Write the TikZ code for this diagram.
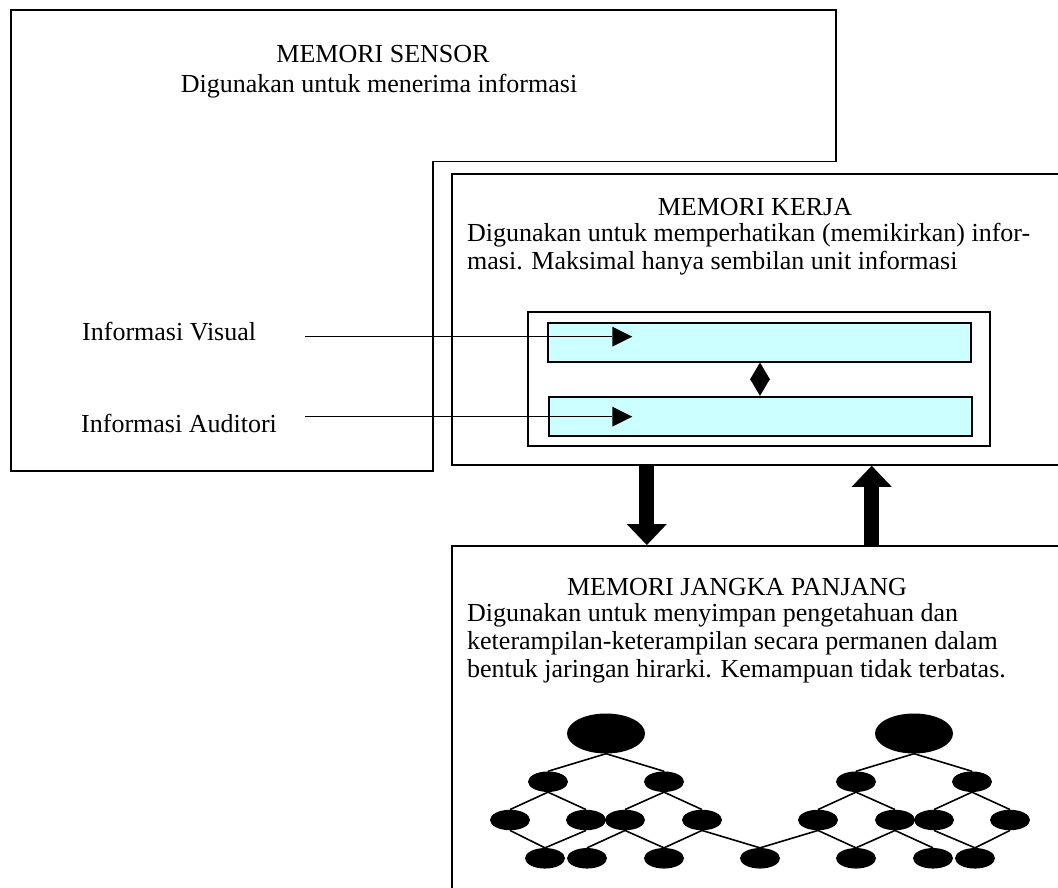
\documentclass[tikz,border=0pt]{standalone}
\usepackage{fontspec}
\setmainfont{Liberation Serif}
\usetikzlibrary{arrows.meta,shapes.geometric}
\definecolor{barcyan}{RGB}{204,255,255}
\begin{document}
\begin{tikzpicture}[x=1pt,y=-1pt,
  txt/.style={inner sep=0pt, font=\fontsize{26}{28}\selectfont},
  boxline/.style={draw=black, line width=1.6pt},
  panel/.style={draw=black, line width=1.6pt, fill=white, inner sep=0pt},
  bar/.style={draw=black, line width=1.6pt, fill=barcyan, inner sep=0pt},
  infoarrow/.style={line width=1.2pt, -{Triangle[length=20pt,width=20pt,line width=0pt]}},
  swaparrow/.style={line width=1.2pt, {Triangle[length=17pt,width=20pt,line width=0pt]}-{Triangle[length=17pt,width=20pt,line width=0pt]}},
  fatarrow/.style={line width=15pt, -{Triangle[length=21pt,width=40pt,line width=0pt]}},
  bignode/.style={ellipse, fill=black, inner sep=0pt, minimum width=78pt, minimum height=40pt},
  smallnode/.style={ellipse, fill=black, inner sep=0pt, minimum width=40pt, minimum height=20.5pt},
  treeline/.style={line width=1.6pt}
]
\useasboundingbox (0,0) rectangle (1058,888);
\clip (0,0) rectangle (1058,888);
% sensor memory (stepped outline)
\draw[boxline] (11,10) -- (836,10) -- (836,161.5) -- (433,161.5) -- (433,471) -- (11,471) -- cycle;
\node[txt, anchor=base] (s1) at (383,63) {MEMORI SENSOR};
\node[txt, anchor=base] (s2) at (379,93) {Digunakan untuk menerima informasi};
\node[txt, anchor=base west] (vis) at (82,340.5) {Informasi Visual};
\node[txt, anchor=base west] (aud) at (81,432) {Informasi Auditori};
% working memory
\node[panel, minimum width=648pt, minimum height=291pt] (kerja) at (776,319.5) {};
\node[txt, anchor=base] (k1) at (755,215) {MEMORI KERJA};
\node[txt, anchor=base west] (k2) at (467,241) {\makebox[563pt][s]{Digunakan untuk memperhatikan (memikirkan) infor-}};
\node[txt, anchor=base west] (k3) at (467,269) {masi. Maksimal hanya sembilan unit informasi};
\node[panel, minimum width=462pt, minimum height=134pt] (inner) at (759,379) {};
\node[bar, minimum width=423pt, minimum height=39pt] (bar1) at (759.5,342.2) {};
\node[bar, minimum width=423pt, minimum height=39pt] (bar2) at (760.5,416.2) {};
\coordinate (vs) at (305,336.7);
\coordinate (vt) at (632.3,336.7);
\coordinate (as) at (305,416.7);
\coordinate (at) at (632.3,416.7);
\draw[infoarrow] (vs) -- (vt);
\draw[infoarrow] (as) -- (at);
\draw[swaparrow] ([xshift=0.5pt]bar1.south) -- ([xshift=-0.5pt]bar2.north);
% long term memory
\node[panel, minimum width=648pt, minimum height=404pt] (ltm) at (776,747.85) {};
\draw[fatarrow] ([xshift=-129.2pt]kerja.south) -- ([xshift=-129.2pt]ltm.north);
\draw[fatarrow] ([xshift=95.7pt]ltm.north) -- ([xshift=95.7pt]kerja.south);
\node[txt, anchor=base] (l1) at (737,595) {MEMORI JANGKA PANJANG};
\node[txt, anchor=base west] (l2) at (467,621) {Digunakan untuk menyimpan pengetahuan dan};
\node[txt, anchor=base west] (l3) at (467,649) {keterampilan-keterampilan secara permanen dalam};
\node[txt, anchor=base west] (l4) at (467,677) {bentuk jaringan hirarki. Kemampuan tidak terbatas.};
% hierarchy
\node[bignode] (r1) at (606,733.5) {};
\node[bignode] (r2) at (914,733.5) {};
\foreach \n/\x in {a1/548,a2/664,a3/856,a4/972}
  \node[smallnode] (\n) at (\x,781.7) {};
\foreach \n/\x in {b1/510,b2/586,b3/625,b4/702,b5/818,b6/895,b7/934,b8/1010}
  \node[smallnode] (\n) at (\x,820) {};
\foreach \n/\x in {c1/545,c2/587,c3/664,c4/760,c5/856,c6/933,c7/975}
  \node[smallnode] (\n) at (\x,858.3) {};
\foreach \p/\c in {r1/a1,r1/a2,r2/a3,r2/a4,a1/b1,a1/b2,a2/b3,a2/b4,a3/b5,a3/b6,a4/b7,a4/b8,
  b1/c1,b2/c1,b3/c2,b3/c3,b4/c3,b4/c4,b5/c4,b5/c5,b6/c5,b6/c6,b7/c7,b8/c7}
  \draw[treeline] (\p.south) -- (\c.north);
\end{tikzpicture}
\end{document}
